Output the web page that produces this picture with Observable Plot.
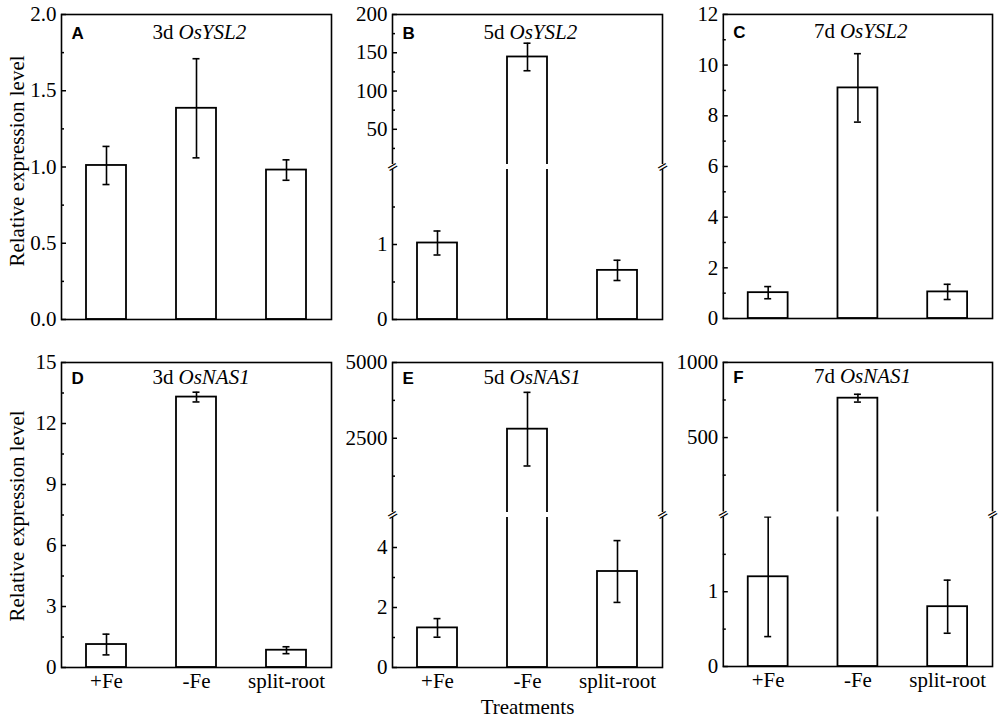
<!DOCTYPE html>
<html>
<head>
<meta charset="utf-8">
<script src="https://cdn.jsdelivr.net/npm/d3@7"></script>
<script src="https://cdn.jsdelivr.net/npm/@observablehq/plot@0.6"></script>
<style>
html, body { margin: 0; padding: 0; background: #fff; }
#chart { position: relative; width: 1000px; height: 724px; overflow: hidden; background: #fff; }
#chart > div { position: absolute; }
</style>
</head>
<body>
<div id="chart"></div>
<script>
// ---------- data ----------
const treatments = ["+Fe", "-Fe", "split-root"];
const letters = ["A", "B", "C", "D", "E", "F"];
const days = ["3d", "5d", "7d", "3d", "5d", "7d"];
const genes = ["OsYSL2", "OsYSL2", "OsYSL2", "OsNAS1", "OsNAS1", "OsNAS1"];

const meanA = [1.01, 1.385, 0.98];   const errA = [0.125, 0.325, 0.067];
const meanB = [1.02, 144.5, 0.655];  const errB = [0.16, 18, 0.135];
const meanC = [1.02, 9.1, 1.05];     const errC = [0.24, 1.35, 0.3];
const meanD = [1.13, 13.3, 0.85];    const errD = [0.51, 0.24, 0.17];
const meanE = [1.32, 2800, 3.2];     const errE = [0.31, 1215, 1.03];
const meanF = [1.2, 762, 0.8];       const errF = [0.8, 26, 0.355];

// y domains: 2 values = continuous axis, 4 values = broken axis [lowMin, lowMax, highMin, highMax]
const domainA = [0, 2];
const domainB = [0, 2, 4, 200];
const domainC = [0, 12];
const domainD = [0, 15];
const domainE = [0, 5, 50, 5000];
const domainF = [0, 2, 5, 1000];

const majorA = [0, 0.5, 1, 1.5, 2];            const minorA = [0.25, 0.75, 1.25, 1.75];
const majorB = [0, 1, 50, 100, 150, 200];      const minorB = [0.5, 1.5, 25, 75, 125, 175];
const majorC = [0, 2, 4, 6, 8, 10, 12];        const minorC = [1, 3, 5, 7, 9, 11];
const majorD = [0, 3, 6, 9, 12, 15];           const minorD = [1.5, 4.5, 7.5, 10.5, 13.5];
const majorE = [0, 2, 4, 2500, 5000];          const minorE = [1, 3, 1250, 3750];
const majorF = [0, 1, 500, 1000];              const minorF = [0.5, 1.5, 250, 750];

const tickFormats = [".1f", "d", "d", "d", "d", "d"];

const means = [meanA, meanB, meanC, meanD, meanE, meanF];
const errs = [errA, errB, errC, errD, errE, errF];
const domains = [domainA, domainB, domainC, domainD, domainE, domainF];
const majors = [majorA, majorB, majorC, majorD, majorE, majorF];
const minors = [minorA, minorB, minorC, minorD, minorE, minorF];

// ---------- layout ----------
const SERIF = "Liberation Serif";
const frameLefts = [61, 392, 723];
const frameTops = [13.5, 361.7];
const FW = 270, FH = 305;
const ML = 62, MR = 8, MT = 30, MB = 52;
const SEG = 150; // pixel height of each segment on broken axes

const chart = document.getElementById("chart");

for (let i = 0; i < 6; i++) {
  const col = i % 3, row = Math.floor(i / 3);
  const domain = domains[i];
  const broken = domain.length === 4;
  const yRange = broken ? [MT + FH, MT + FH - SEG, MT + SEG, MT] : [MT + FH, MT];
  const data = treatments.map((t, j) => ({t, m: means[i][j], e: errs[i][j]}));
  const fmt = d3.format(tickFormats[i]);
  const titleDy = row === 0 ? 24 : 21;

  const marks = [
    Plot.barY(data, {x: "t", y1: 0, y2: "m", fill: "white", stroke: "black", strokeWidth: 1.8}),
    Plot.ruleX(data, {x: "t", y1: d => d.m - d.e, y2: d => d.m + d.e, stroke: "black", strokeWidth: 1.6}),
    Plot.tickY(data, {x: "t", y: d => d.m + d.e, insetLeft: 16.5, insetRight: 16.5, stroke: "black", strokeWidth: 1.6}),
    Plot.tickY(data, {x: "t", y: d => d.m - d.e, insetLeft: 16.5, insetRight: 16.5, stroke: "black", strokeWidth: 1.6}),
    Plot.tickY(majors[i], {y: d => d, insetRight: FW - 5, stroke: "black", strokeWidth: 1.5}),
    Plot.tickY(minors[i], {y: d => d, insetRight: FW - 3, stroke: "black", strokeWidth: 1.5}),
    Plot.frame({stroke: "black", strokeWidth: 1.6}),
    Plot.axisY(majors[i], {anchor: "left", tickSize: 0, tickPadding: 5, tickFormat: fmt, label: null,
      fontFamily: SERIF, fontSize: 21, fill: "black"}),
    Plot.text([letters[i]], {text: d => d, frameAnchor: "top-left", dx: 10, dy: titleDy, lineAnchor: "bottom", textAnchor: "start",
      fontFamily: "Liberation Sans", fontWeight: "bold", fontSize: 17, fill: "black"}),
    Plot.text([days[i]], {text: d => d, frameAnchor: "top", dx: -23, dy: titleDy, lineAnchor: "bottom", textAnchor: "end",
      fontFamily: SERIF, fontSize: 21, fill: "black"}),
    Plot.text([genes[i]], {text: d => d, frameAnchor: "top", dx: -18, dy: titleDy, lineAnchor: "bottom", textAnchor: "start",
      fontFamily: SERIF, fontStyle: "italic", fontSize: 21, fill: "black"})
  ];

  if (broken) {
    const gap = [domain[1], domain[2]];
    const mid = (domain[1] + domain[2]) / 2;
    marks.push(
      Plot.rect([gap], {y1: d => d[0], y2: d => d[1], insetLeft: -3, insetRight: -3, fill: "white"}),
      Plot.text([mid], {y: d => d, text: () => "=", frameAnchor: "left", textAnchor: "middle", rotate: -30,
        fontFamily: "DejaVu Sans", fontSize: 14, fill: "black"}),
      Plot.text([mid], {y: d => d, text: () => "=", frameAnchor: "right", textAnchor: "middle", rotate: -30,
        fontFamily: "DejaVu Sans", fontSize: 14, fill: "black"})
    );
  }
  if (col === 0) {
    marks.push(Plot.text(["Relative expression level"], {text: d => d, frameAnchor: "left", textAnchor: "middle",
      dx: -44, dy: row === 0 ? -6 : 1, rotate: -90, fontFamily: SERIF, fontSize: 21, fill: "black"}));
  }
  if (row === 1) {
    marks.push(Plot.axisX({tickSize: 0, tickPadding: 6, label: null, fontFamily: SERIF, fontSize: 21, fill: "black"}));
  }
  if (i === 4) {
    marks.push(Plot.text(["Treatments"], {text: d => d, frameAnchor: "bottom", textAnchor: "middle", dy: 46, lineAnchor: "bottom",
      fontFamily: SERIF, fontSize: 21, fill: "black"}));
  }

  const svg = Plot.plot({
    width: ML + FW + MR,
    height: MT + FH + MB,
    marginLeft: ML, marginRight: MR, marginTop: MT, marginBottom: MB,
    x: {domain: treatments, paddingInner: 0.5556, paddingOuter: 0.2778, align: 0.5, axis: row === 1 ? undefined : null},
    y: {type: "linear", domain, range: yRange, axis: null},
    style: {fontFamily: SERIF, fontSize: "21px", background: "transparent", overflow: "visible", color: "black"},
    marks
  });

  const holder = document.createElement("div");
  holder.style.left = (frameLefts[col] - ML) + "px";
  holder.style.top = (frameTops[row] - MT) + "px";
  holder.appendChild(svg);
  chart.appendChild(holder);
}
</script>
</body>
</html>
